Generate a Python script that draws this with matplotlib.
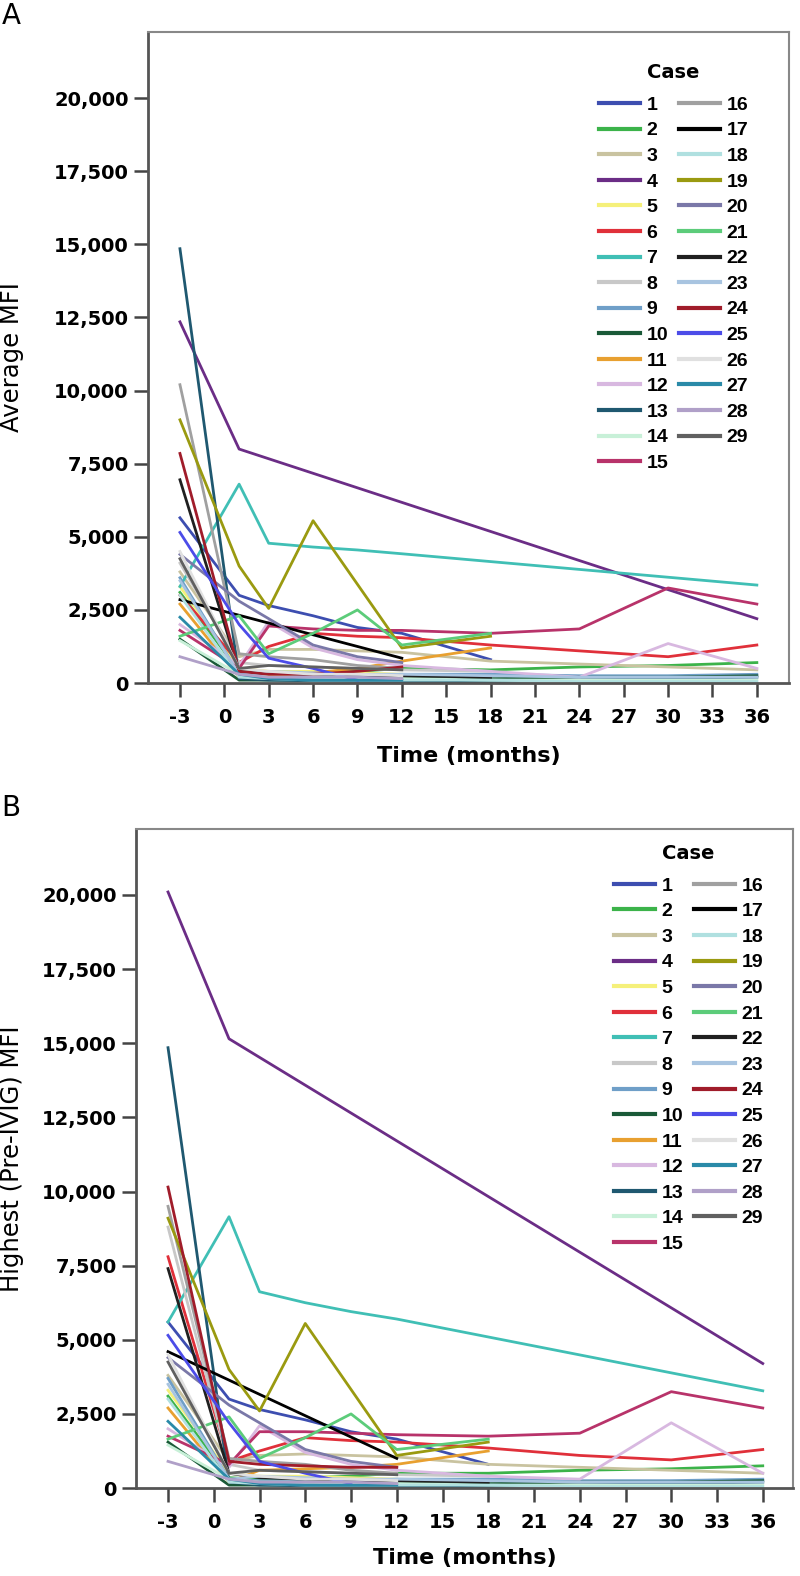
import numpy as np
import matplotlib.pyplot as plt

plt.rcParams['axes.unicode_minus'] = False

nan = np.nan

months = [-3, 1, 3, 6, 9, 12, 18, 24, 30, 36]
cases = [str(i) for i in range(1, 30)]

case_colors = ['#3d4eb0', '#3cb34a', '#c9c3a0', '#6b2d86', '#f5f07a', '#e0303a',
               '#40bfb5', '#c8c8c8', '#6f9fc8', '#1a5a38', '#e8a030', '#d8b8e0',
               '#1f5870', '#c8f0d8', '#b8336a', '#a0a0a0', '#000000', '#b0e0e0',
               '#9a9a10', '#7a78a8', '#5ccc7a', '#202020', '#a8c4e0', '#a01c2a',
               '#4c4ce8', '#e0e0e0', '#2a8aa8', '#b0a0c8', '#606060']

# Average MFI, one row per case, columns follow `months`
average_mfi = [
    [5650, 3000, 2650, 2300, 1900, 1700, 800, nan, nan, nan],
    [3100, 400, 300, 350, 400, 500, 450, 550, 600, 700],
    [3800, 900, 1150, 1150, 1100, 1050, 750, 650, 550, 450],
    [12350, 8000, nan, nan, nan, nan, nan, nan, nan, 2200],
    [3300, 500, 400, 400, 350, 300, nan, nan, nan, nan],
    [3000, 700, 1250, 1700, 1600, 1550, 1300, 1100, 900, 1300],
    [3300, 6800, 4780, 4650, 4550, 4420, nan, nan, nan, 3350],
    [4100, 700, 600, 550, 500, 450, 400, nan, nan, nan],
    [3600, 300, 250, 250, 250, 300, 300, 250, 250, 300],
    [1500, 100, 100, 100, 150, 150, 150, 200, 200, 250],
    [2700, 200, 250, 350, 500, 750, 1200, nan, nan, nan],
    [2000, 600, 2100, 1200, 800, 600, 400, 200, 1350, 500],
    [14850, 150, 100, 80, 60, 50, 50, 100, 150, 200],
    [1450, 300, 200, 200, 150, 150, 100, 100, 100, 100],
    [1800, 500, 1950, 1850, 1800, 1800, 1700, 1850, 3250, 2700],
    [10200, 1000, 900, 800, 600, 500, nan, nan, nan, nan],
    [2850, nan, nan, nan, nan, 850, nan, nan, nan, nan],
    [3000, 200, 150, 100, 100, 100, 100, 50, 50, 50],
    [9000, 4000, 2550, 5550, nan, 1200, 1600, nan, nan, nan],
    [4400, 2800, 2200, 1300, 900, 700, nan, nan, nan, nan],
    [1600, 2300, 1000, 1700, 2500, 1300, 1700, nan, nan, nan],
    [6950, 400, 350, 300, 250, 250, 200, nan, nan, nan],
    [3500, 300, 400, 350, 300, 300, 250, 200, 200, 200],
    [7850, 400, 300, 300, 400, 550, nan, nan, nan, nan],
    [5150, 2000, 850, 500, 100, nan, nan, nan, nan, nan],
    [4500, 500, 400, 300, 300, 250, nan, nan, nan, nan],
    [2250, 300, 150, 100, 100, 100, nan, nan, nan, nan],
    [900, 300, 200, 200, 200, 150, nan, nan, nan, nan],
    [4250, 500, 600, 550, 500, 450, nan, nan, nan, nan],
]

# Highest (pre-IVIG) MFI
highest_mfi = [
    [5600, 3000, 2650, 2300, 1900, 1650, 800, nan, nan, nan],
    [3100, 350, 300, 350, 400, 500, 500, 600, 650, 750],
    [3800, 900, 1100, 1150, 1100, 1050, 800, 700, 600, 500],
    [20100, 15150, nan, nan, nan, nan, nan, nan, nan, 4200],
    [3300, 500, 400, 400, 350, 300, nan, nan, nan, nan],
    [7800, 900, 1250, 1700, 1600, 1550, 1350, 1100, 950, 1300],
    [5600, 9150, 6620, 6250, 5950, 5700, nan, nan, nan, 3280],
    [8800, 800, 600, 550, 500, 450, 400, nan, nan, nan],
    [3700, 300, 250, 250, 250, 300, 300, 250, 250, 300],
    [1550, 100, 100, 100, 150, 150, 150, 200, 200, 250],
    [2700, 200, 600, 650, 700, 800, 1250, nan, nan, nan],
    [2000, 700, 2100, 1200, 800, 600, 400, 300, 2200, 500],
    [14850, 200, 100, 80, 60, 50, 50, 100, 150, 200],
    [1450, 300, 200, 200, 150, 150, 100, 100, 100, 100],
    [1750, 800, 1900, 1900, 1850, 1800, 1750, 1850, 3250, 2700],
    [9500, 1000, 900, 800, 600, 500, nan, nan, nan, nan],
    [4600, nan, nan, nan, nan, 1000, nan, nan, nan, nan],
    [3000, 200, 150, 100, 100, 100, 100, 50, 50, 50],
    [9100, 4000, 2600, 5550, nan, 1100, 1550, nan, nan, nan],
    [4400, 2800, 2200, 1300, 900, 700, nan, nan, nan, nan],
    [1650, 2400, 1000, 1700, 2500, 1300, 1650, nan, nan, nan],
    [7400, 500, 350, 300, 250, 250, 200, nan, nan, nan],
    [3500, 300, 400, 350, 300, 300, 250, 200, 200, 200],
    [10150, 900, 800, 750, 700, 700, nan, nan, nan, nan],
    [5150, 2200, 900, 500, 150, nan, nan, nan, nan, nan],
    [4500, 500, 400, 300, 300, 250, nan, nan, nan, nan],
    [2250, 300, 150, 100, 100, 100, nan, nan, nan, nan],
    [900, 300, 200, 200, 200, 150, nan, nan, nan, nan],
    [4250, 500, 600, 550, 500, 450, nan, nan, nan, nan],
]

xticks = list(range(-3, 37, 3))
yticks = [0, 2500, 5000, 7500, 10000, 12500, 15000, 17500, 20000]

fig = plt.figure(figsize=(8, 15.76), dpi=100)

panels = [
    # axes rect, data, ylabel, letter, letter y, ylabel x, xlabel y, legend anchor, xlim, ytop
    ([0.185, 0.5666, 0.801, 0.4131], average_mfi, 'Average MFI', 'A', 0.9985,
     -0.1934, -0.097, (0.7365, 0.966), (-5.16, 38.16), 22260),
    ([0.170, 0.0558, 0.821, 0.4181], highest_mfi, 'Highest (Pre-IVIG) MFI', 'B', 0.4965,
     -0.1705, -0.091, (0.755, 0.4705), (-5.1, 37.97), 22220),
]

for rect, data, ylab, letter, ly, ylx, xly, leg_xy, xl, ytop in panels:
    ax = fig.add_axes(rect)
    for i, row in enumerate(data):
        arr = np.array(row, dtype=float)
        ok = ~np.isnan(arr)
        ax.plot(np.array(months)[ok], arr[ok], color=case_colors[i], lw=2.0,
                label=cases[i])
    ax.set_xlim(*xl)
    ax.set_ylim(0, ytop)
    ax.set_xticks(xticks)
    ax.set_yticks(yticks)
    ax.set_yticklabels([f'{v:,}' for v in yticks])
    ax.tick_params(axis='both', direction='out', length=10, width=1.8,
                   color='#444444', labelsize=14, pad=4)
    for lab in ax.get_xticklabels() + ax.get_yticklabels():
        lab.set_fontweight('bold')
        lab.set_family('DejaVu Sans')
    ax.tick_params(axis='x', pad=8)
    for side in ['left', 'bottom']:
        ax.spines[side].set_color('#555555')
        ax.spines[side].set_linewidth(2)
    for side in ['top', 'right']:
        ax.spines[side].set_color('#888888')
        ax.spines[side].set_linewidth(1.5)
    ax.set_xlabel('Time (months)', fontsize=16, fontweight='bold', family='DejaVu Sans')
    ax.xaxis.set_label_coords(0.5, xly)
    ax.set_ylabel(ylab, fontsize=17.5, family='DejaVu Sans')
    ax.yaxis.set_label_coords(ylx, 0.5)

    leg = ax.legend(ncol=2, title='Case', loc='upper left', bbox_to_anchor=leg_xy,
                    bbox_transform=fig.transFigure, frameon=False, borderpad=0,
                    handlelength=2.1, handletextpad=0.35, columnspacing=0.55,
                    labelspacing=0.41,
                    prop={'family': 'Liberation Sans', 'weight': 'bold', 'size': 14})
    leg.get_title().set_fontproperties({'family': 'DejaVu Sans', 'weight': 'bold', 'size': 14})
    leg._legend_box.sep = 10
    for h in leg.get_lines():
        h.set_linewidth(3)

    fig.text(0.002, ly, letter, fontsize=20, va='top', ha='left')

fig.savefig('out.png', dpi=100)
